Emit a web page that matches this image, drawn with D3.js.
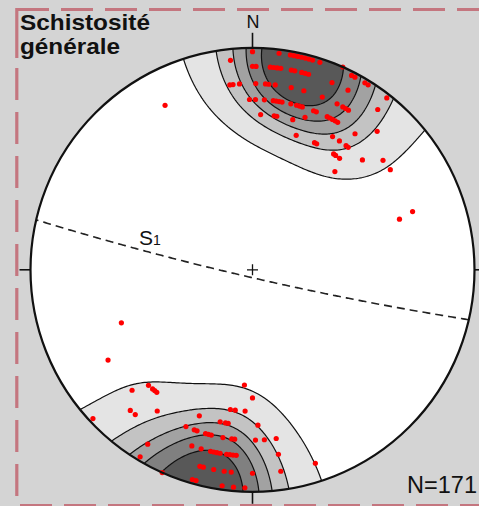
<!DOCTYPE html>
<html>
<head>
<meta charset="utf-8">
<script src="https://cdn.jsdelivr.net/npm/d3@7"></script>
<style>
  html, body { margin: 0; padding: 0; background: #d4d4d4; }
  svg { display: block; }
  text { font-family: "Liberation Sans", Arial, sans-serif; }
</style>
</head>
<body>
<svg id="chart" width="479" height="506"></svg>
<script>
// Poles to the general schistosity: trend and plunge in degrees (lower hemisphere)
const poleTrend = [
  0, 7, 10, 11, 12, 13, 14, 15, 16, 18, 354, 0, 1, 5, 6, 7, 8, 11, 12, 14, 15, 16,
  24, 27, 28, 23, 31, 32, 353, 354, 356, 1, 4, 5, 7, 12, 16, 28, 22, 38,
  359, 1, 4, 7, 8, 9, 10, 13, 15, 16, 17, 27, 29, 30, 31, 38, 21, 22,
  3, 8, 9, 15, 19, 26, 27, 28, 29, 30, 37, 42, 18, 31, 34, 26, 27, 37, 38,
  35, 36, 38, 45, 50, 40, 54,
  222, 220, 219, 218, 225, 184, 180, 227, 221, 219, 214, 189, 187, 183,
  200, 192, 190, 189, 178, 203, 200, 199, 196, 195, 194, 190, 187, 186,
  179, 176, 172, 211, 199, 196, 193, 192, 191, 190, 188, 187, 186, 185,
  172, 211, 162, 195, 194, 191, 188, 186, 172, 180, 204, 196, 195, 188, 185, 182,
  332, 71, 70, 248, 238
];
const polePlunge = [
  1, 1, 1, 1, 1, 1, 1, 1, 1, 1, 3, 5, 5, 5, 5, 5, 5, 5, 5, 5, 5, 5,
  0, 1, 1, 5, 1, 1, 10, 10, 10, 10, 10, 10, 10, 10, 10, 5, 10, 1,
  15, 15, 15, 15, 15, 15, 15, 15, 15, 15, 15, 10, 10, 10, 10, 5, 15, 15,
  20, 20, 20, 20, 18, 15, 15, 15, 15, 15, 15, 10, 25, 20, 20, 25, 25, 20, 20,
  25, 25, 25, 20, 15, 30, 15,
  20, 20, 20, 20, 15, 35, 30, 1, 10, 10, 15, 25, 25, 25,
  20, 20, 20, 20, 20, 15, 15, 15, 15, 15, 15, 15, 15, 15,
  15, 15, 15, 5, 10, 10, 10, 10, 10, 10, 10, 10, 10, 10,
  10, 1, 5, 5, 5, 5, 5, 5, 5, 5, 0, 1, 1, 1, 1, 1,
  10, 20, 15, 25, 15
];
// Mean S1 plane, given by its pole (trend, plunge)
const s1Pole = [13, 4];
const nMeasures = 171;
const titleLines = ["Schistosité", "générale"];
// density contours, in multiples of a uniform distribution
const contourLevels = [1.75, 3.75, 5.05, 6.1, 7.25];
const bandFills = ["#e4e4e4", "#c3c3c3", "#a2a2a2", "#808080", "#585858"];

const cx = 252.5, cy = 269.8, R = 222;
const svg = d3.select("#chart");

// Wulff (stereographic) net, lower hemisphere, north at the top
const proj = d3.geoStereographic()
  .scale(R).translate([cx, cy])
  .rotate([0, -90]).clipAngle(90).precision(0.1);
const toGeo = (trend, plunge) => [180 - trend, plunge];
const rad = Math.PI / 180;
const cart = ([lon, lat]) => [
  Math.cos(lat * rad) * Math.cos(lon * rad),
  Math.cos(lat * rad) * Math.sin(lon * rad),
  Math.sin(lat * rad)
];

const poles = poleTrend.map((t, i) => toGeo(t, polePlunge[i]));
const vecs = poles.map(cart);

// background and frame
svg.append("rect").attr("width", 479).attr("height", 506).attr("fill", "#d4d4d4");
const frame = svg.append("g").attr("stroke", "#c4767f").attr("stroke-width", 3.2).attr("fill", "none");
frame.append("line").attr("x1", 17).attr("x2", 479).attr("y1", 9.5).attr("y2", 9.5).attr("stroke-dasharray", "32 12");
frame.append("line").attr("x1", 16.8).attr("x2", 16.8).attr("y1", 8).attr("y2", 58);
frame.append("line").attr("x1", 16.8).attr("x2", 16.8).attr("y1", 68).attr("y2", 506).attr("stroke-dasharray", "32 12");
frame.append("line").attr("x1", 20).attr("x2", 479).attr("y1", 505.5).attr("y2", 505.5).attr("stroke-dasharray", "32 12");

// net interior
svg.append("defs").append("clipPath").attr("id", "net")
  .append("circle").attr("cx", cx).attr("cy", cy).attr("r", R);
svg.append("circle").attr("cx", cx).attr("cy", cy).attr("r", R).attr("fill", "#fff");

// axial exponential (Kamb-type) density on the sphere, sampled on a grid
const k = 20;
const step = 2, pad = 8;
const x0 = cx - R - pad, y0 = cy - R - pad;
const nx = Math.ceil((2 * R + 2 * pad) / step) + 1, ny = nx;
const values = new Float64Array(nx * ny);
const norm = vecs.length * (1 - Math.exp(-k)) / k;
for (let j = 0; j < ny; j++) {
  for (let i = 0; i < nx; i++) {
    const v = cart(proj.invert([x0 + i * step, y0 + j * step]));
    let s = 0;
    for (const p of vecs) {
      const d = Math.abs(v[0] * p[0] + v[1] * p[1] + v[2] * p[2]);
      s += Math.exp(k * (d - 1));
    }
    values[j * nx + i] = s / norm;
  }
}
const bands = d3.contours().size([nx, ny]).thresholds(contourLevels)(values);
const gridPath = d3.geoPath(d3.geoTransform({
  point(x, y) { this.stream.point(x0 + (x - 0.5) * step, y0 + (y - 0.5) * step); }
}));
svg.append("g").attr("clip-path", "url(#net)")
  .selectAll("path").data(bands).join("path")
  .attr("d", gridPath)
  .attr("fill", (d, i) => bandFills[i])
  .attr("stroke", "#111").attr("stroke-width", 1.2).attr("stroke-linejoin", "round");

// poles
svg.append("g").selectAll("circle").data(poles).join("circle")
  .attr("cx", d => proj(d)[0]).attr("cy", d => proj(d)[1])
  .attr("r", 2.6).attr("fill", "#ff0000");

// S1 great circle
const gc = d3.geoCircle().center(toGeo(s1Pole[0], s1Pole[1])).radius(90).precision(0.5)();
svg.append("path")
  .datum({ type: "LineString", coordinates: gc.coordinates[0] })
  .attr("d", d3.geoPath(proj))
  .attr("fill", "none").attr("stroke", "#222").attr("stroke-width", 1.6)
  .attr("stroke-dasharray", "8 5");

// centre cross
const c0 = proj([0, 90]);
svg.append("path")
  .attr("d", `M${c0[0] - 5.5},${c0[1]}H${c0[0] + 5.5}M${c0[0]},${c0[1] - 5.5}V${c0[1] + 5.5}`)
  .attr("stroke", "#111").attr("stroke-width", 1.3);

// S1 label
const s1 = svg.append("text").attr("x", 139).attr("y", 245).attr("fill", "#111").attr("font-size", 21);
s1.append("tspan").text("S");
s1.append("tspan").attr("font-size", 14).text("1");

// primitive circle and cardinal ticks
svg.append("circle").attr("cx", cx).attr("cy", cy).attr("r", R)
  .attr("fill", "none").attr("stroke", "#111").attr("stroke-width", 2.2);
const ticks = [[0, 15], [90, 11], [180, 12], [270, 11]];
svg.append("g").selectAll("line").data(ticks).join("line")
  .attr("x1", d => cx + R * Math.sin(d[0] * rad))
  .attr("y1", d => cy - R * Math.cos(d[0] * rad))
  .attr("x2", d => cx + (R + d[1]) * Math.sin(d[0] * rad))
  .attr("y2", d => cy - (R + d[1]) * Math.cos(d[0] * rad))
  .attr("stroke", "#111").attr("stroke-width", 1.6);
svg.append("text").attr("x", cx + 0.5).attr("y", 28).attr("text-anchor", "middle")
  .attr("font-size", 18).attr("fill", "#111").text("N");

// title (two lines, stretched to the heading width) and count
const titleWidths = [130, 100];
svg.append("g").selectAll("text").data(titleLines).join("text")
  .attr("font-size", 21.4).attr("font-weight", "bold").attr("fill", "#111")
  .attr("x", 20).attr("y", (d, i) => 29.8 + i * 24.2)
  .attr("textLength", (d, i) => titleWidths[i]).attr("lengthAdjust", "spacingAndGlyphs")
  .text(d => d);
svg.append("text").attr("x", 477).attr("y", 493).attr("text-anchor", "end")
  .attr("font-size", 23.5).attr("fill", "#111").text("N=" + nMeasures);
</script>
</body>
</html>
